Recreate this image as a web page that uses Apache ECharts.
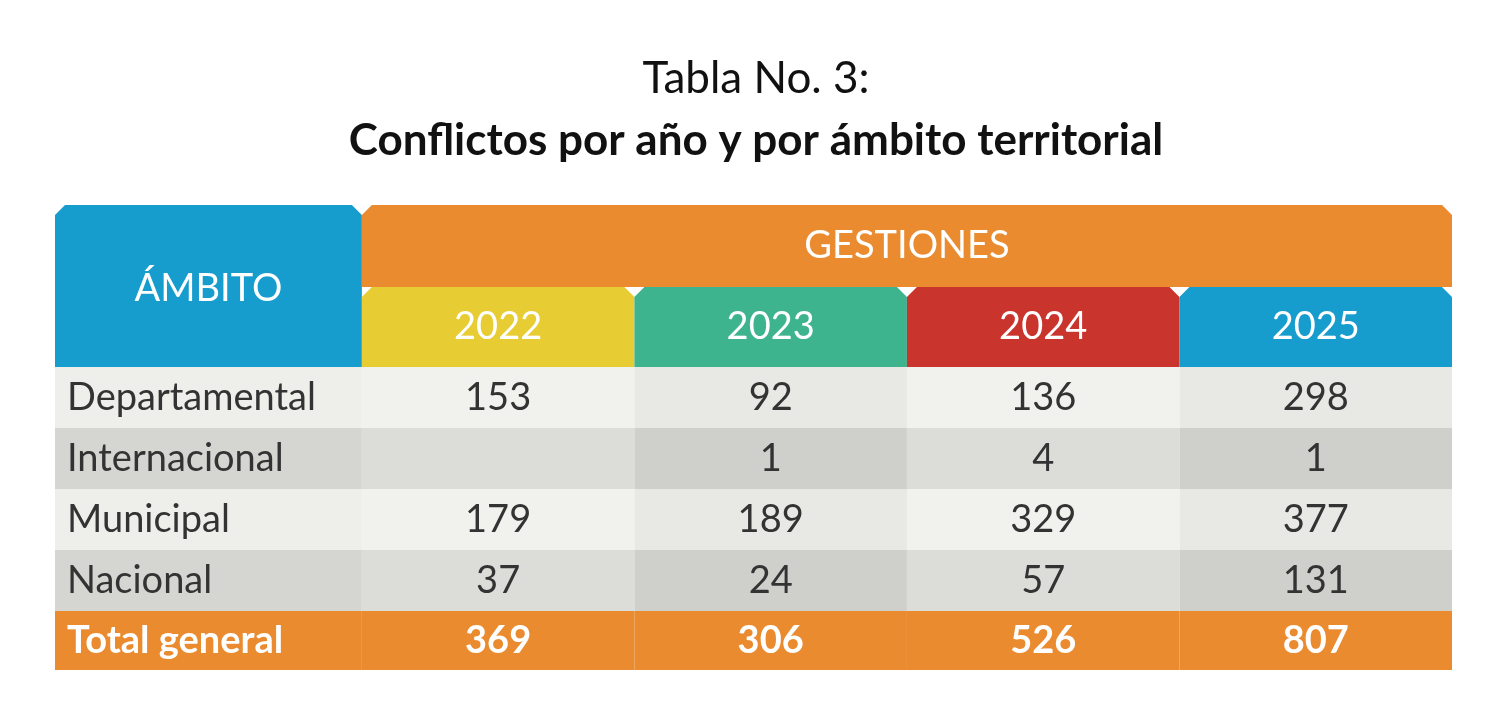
<!DOCTYPE html>
<html><head><meta charset="utf-8">
<script src="https://cdn.jsdelivr.net/npm/echarts@6/dist/echarts.min.js"></script>
<style>html,body{margin:0;background:#fff}#c{width:1512px;height:706px}</style></head>
<body><div id="c"></div>
<script>
const title1 = 'Tabla No. 3:';
const title2 = 'Conflictos por año y por ámbito territorial';
const headerLabel = 'ÁMBITO';
const groupLabel = 'GESTIONES';
const years = ['2022','2023','2024','2025'];
const categories = ['Departamental','Internacional','Municipal','Nacional'];
const v2022 = [153, null, 179, 37];
const v2023 = [92, 1, 189, 24];
const v2024 = [136, 4, 329, 57];
const v2025 = [298, 1, 377, 131];
const totalLabel = 'Total general';
const totals = [369, 306, 526, 807];

// layout (not data)
const colEdges = [-1.126, 0, 1, 2, 3, 4];
const rowEdges = [0, 82, 162, 223, 284, 345, 406, 465];
const yearColors = ['#e8cc33','#3eb48e','#c9342d','#179cce'];
const blue = '#179cce', orange = '#e98b2e';
const lightA = ['#eeeeea','#f1f1ed','#e8e9e4','#f1f1ed','#e8e9e4'];
const darkA = ['#d5d6d2','#dcddd9','#cfd0cc','#dcddd9','#cfd0cc'];

const values = [v2022, v2023, v2024, v2025];
const cells = [];
// [c0,c1,r0,r1,fill,text,textColor,bold,bevel,align]
cells.push([0,1,0,2,blue,headerLabel,'#fff',0,1,'center']);
cells.push([1,5,0,1,orange,groupLabel,'#fff',0,1,'center']);
years.forEach((y,i)=>cells.push([i+1,i+2,1,2,yearColors[i],y,'#fff',0,1,'center']));
categories.forEach((cat,r)=>{
  const pal = r%2===0 ? lightA : darkA;
  cells.push([0,1,r+2,r+3,pal[0],cat,'#333',0,0,'left']);
  values.forEach((vs,i)=>cells.push([i+1,i+2,r+2,r+3,pal[i+1],vs[r]==null?'':String(vs[r]),'#333',0,0,'center']));
});
cells.push([0,1,6,7,orange,totalLabel,'#fff',1,0,'left']);
totals.forEach((t,i)=>cells.push([i+1,i+2,6,7,orange,String(t),'#fff',1,0,'center']));

const chart = echarts.init(document.getElementById('c'));
chart.setOption({
  backgroundColor:'#fff',
  title:[
    {text:title1,left:'center',top:52,textStyle:{fontFamily:'Lato',fontWeight:'normal',fontSize:44,color:'#111'}},
    {text:title2,left:'center',top:114,textStyle:{fontFamily:'Lato',fontWeight:'bold',fontSize:44,color:'#111'}}
  ],
  grid:{left:55,right:60,top:205,height:465},
  xAxis:{type:'value',min:-1.126,max:4,show:false},
  yAxis:{type:'value',min:0,max:465,inverse:true,show:false},
  series:[{
    type:'custom',
    data:cells.map((c,i)=>[i]),
    renderItem:(params,api)=>{
      const c = cells[api.value(0)];
      const p0 = api.coord([colEdges[c[0]], rowEdges[c[2]]]);
      const p1 = api.coord([colEdges[c[1]], rowEdges[c[3]]]);
      const x0=p0[0], y0=p0[1], x1=p1[0], y1=p1[1];
      const b = c[8] ? 10 : 0;
      const shape = {points:[[x0,y0+b],[x0+b,y0],[x1-b,y0],[x1,y0+b],[x1,y1],[x0,y1]]};
      const tx = c[9]==='left' ? x0+12 : (x0+x1)/2;
      let ty = (y0+y1)/2;
      if (c[5]===headerLabel) ty = y0+84;
      return {type:'group',children:[
        {type:'polygon',shape,style:{fill:c[4]}},
        {type:'text',style:{x:tx,y:ty,text:c[5],fill:c[6],fontFamily:'Lato',fontSize:38,
          fontWeight:c[7]?'bold':'normal',align:c[9],verticalAlign:'middle'}}
      ]};
    }
  }]
});
</script></body></html>
